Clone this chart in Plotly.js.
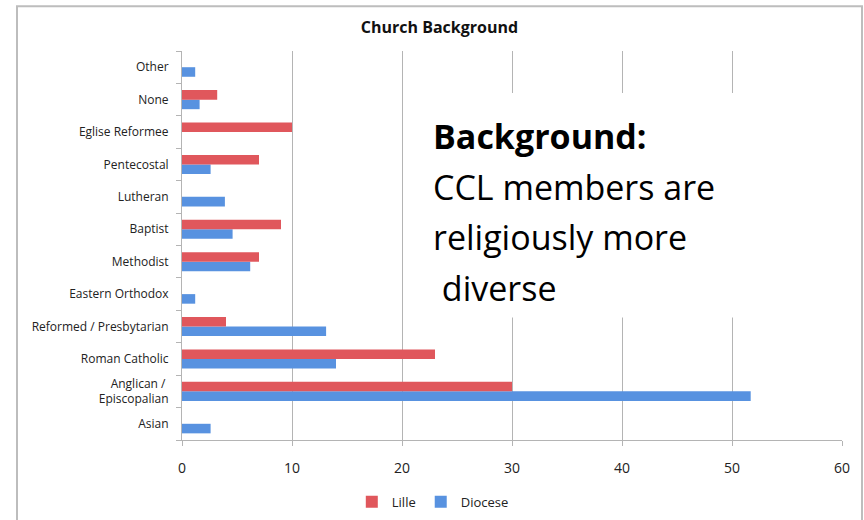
<!DOCTYPE html>
<html>
<head>
<meta charset="utf-8">
<script src="https://cdn.plot.ly/plotly-3.0.1.min.js"></script>
<style>body{margin:0;background:#fff;} #chart{width:864px;height:520px;}</style>
</head>
<body>
<div id="chart"></div>
<script>
const categories = ["Asian", "Anglican / <br>Episcopalian", "Roman Catholic", "Reformed / Presbytarian", "Eastern Orthodox", "Methodist", "Baptist", "Lutheran", "Pentecostal", "Eglise Reformee", "None", "Other"];
const lilleValues = [0, 30, 23, 4, 0, 7, 9, 0, 7, 10, 3.2, 0];
const dioceseValues = [2.6, 51.7, 14, 13.1, 1.2, 6.2, 4.6, 3.9, 2.6, 0, 1.6, 1.2];
const xTicks = [0, 10, 20, 30, 40, 50, 60];

const font = "Open Sans, Noto Sans, sans-serif";

const traces = [
  {type: "bar", orientation: "h", name: "Diocese", y: categories, x: dioceseValues,
   marker: {color: "#5892e0"}},
  {type: "bar", orientation: "h", name: "Lille", y: categories, x: lilleValues,
   marker: {color: "#e0575c"}}
];

const textFont = {size: 34, family: font, color: "#000"};

const layout = {
  width: 864, height: 520,
  margin: {l: 182, r: 22, t: 51, b: 80, autoexpand: false},
  paper_bgcolor: "#fff", plot_bgcolor: "#fff",
  barmode: "group", bargap: 0.41, bargroupgap: 0,
  font: {family: font, color: "#222"},
  title: {text: "<b>Church Background</b>", font: {size: 16, family: font, color: "#111"},
          x: 0.39, xref: "paper", xanchor: "center", y: 0.948, yref: "container", yanchor: "middle"},
  xaxis: {range: [0, 60], tickvals: xTicks, ticktext: xTicks.map(String),
          showgrid: true, gridcolor: "#b4b4b4", gridwidth: 1,
          showline: true, linecolor: "#b4b4b4", mirror: false,
          ticks: "outside", ticklen: 5, tickcolor: "#b4b4b4", ticklabelstandoff: 10,
          tickfont: {size: 14, color: "#222"}, zeroline: false, fixedrange: true, automargin: false},
  yaxis: {type: "category", showgrid: false, showline: true, linecolor: "#b4b4b4",
          ticks: "outside", tickson: "boundaries", ticklen: 5, tickcolor: "#b4b4b4",
          ticklabelstandoff: 10,
          tickfont: {size: 12, color: "#222"}, zeroline: false, fixedrange: true, automargin: false},
  legend: {orientation: "h", x: 0.38, xanchor: "center", y: -0.159, yanchor: "middle",
           traceorder: "reversed", font: {size: 13, color: "#222"}, itemwidth: 30},
  shapes: [
    {type: "rect", xref: "paper", yref: "paper", x0: -0.25, x1: 1.0303, y0: -0.25, y1: 1.115,
     line: {color: "#bdbdbd", width: 2}, fillcolor: "rgba(0,0,0,0)", layer: "above"},
    {type: "rect", xref: "paper", yref: "paper", x0: 0.368, x1: 0.991, y0: 0.315, y1: 0.892,
     line: {width: 0}, fillcolor: "#fff", layer: "above"}
  ],
  annotations: [
    {text: "<b>Background:</b>", xref: "paper", yref: "paper", x: 0.377, y: 0.782, xanchor: "left", yanchor: "middle", showarrow: false, font: textFont},
    {text: "CCL members are", xref: "paper", yref: "paper", x: 0.377, y: 0.651, xanchor: "left", yanchor: "middle", showarrow: false, font: textFont},
    {text: "religiously more", xref: "paper", yref: "paper", x: 0.377, y: 0.521, xanchor: "left", yanchor: "middle", showarrow: false, font: textFont},
    {text: "&nbsp;diverse", xref: "paper", yref: "paper", x: 0.377, y: 0.392, xanchor: "left", yanchor: "middle", showarrow: false, font: textFont}
  ]
};

Plotly.newPlot("chart", traces, layout, {displayModeBar: false, staticPlot: true});
</script>
</body>
</html>
